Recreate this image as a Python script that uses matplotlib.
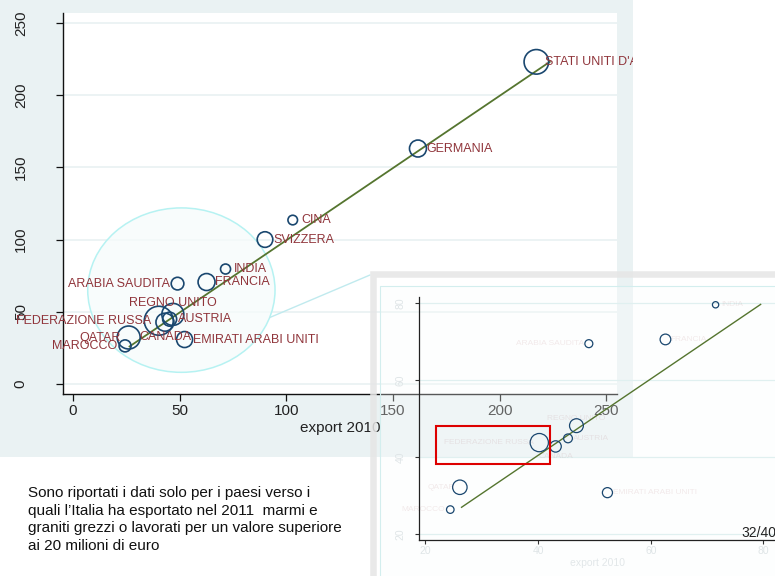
import matplotlib
matplotlib.use('Agg')
import numpy as np
import matplotlib.pyplot as plt
from matplotlib.patches import Rectangle, Ellipse, ConnectionPatch
from matplotlib.transforms import Bbox, TransformedBbox

plt.rcParams['font.family'] = ['Liberation Sans', 'DejaVu Sans']

# export di marmi e graniti per paese (milioni di euro)
paesi = ["STATI UNITI D'AMERICA", 'GERMANIA', 'CINA', 'SVIZZERA', 'INDIA', 'FRANCIA',
         'ARABIA SAUDITA', 'REGNO UNITO', 'AUSTRIA', 'CANADA', 'FEDERAZIONE RUSSA',
         'QATAR', 'MAROCCO', 'EMIRATI ARABI UNITI']
export_2010 = [217.2, 161.7, 103.0, 90.0, 71.5, 62.6, 49.0, 46.8, 45.3, 43.1, 40.2, 26.1, 24.4, 52.3]
export_2011 = [223.0, 163.0, 113.5, 100.0, 79.6, 70.6, 69.5, 48.2, 44.9, 42.8, 43.8, 32.2, 26.4, 30.8]
peso = [15.1, 7.2, 2.3, 6.1, 2.5, 7.2, 4.0, 12.1, 4.9, 8.1, 21.0, 13.2, 3.6, 6.4]

# retta stimata (grafico intero e zoom)
fit_x = [26.5, 223.5]
fit_y = [26.0, 223.0]
fit_x_zoom = [26.4, 79.5]
fit_y_zoom = [27.0, 79.7]

tick_main = [0, 50, 100, 150, 200, 250]
tick_zoom = [20, 40, 60, 80]

nota = ("Sono riportati i dati solo per i paesi verso i\n"
        "quali l\u2019Italia ha esportato nel 2011  marmi e\n"
        "graniti grezzi o lavorati per un valore superiore\n"
        "ai 20 milioni di euro")

# posizione etichette (ore dell'orologio, come in Stata)
pos_etichetta = {'ARABIA SAUDITA': 9, 'FEDERAZIONE RUSSA': 9, 'QATAR': 9, 'MAROCCO': 9,
                 'REGNO UNITO': 12, 'CANADA': 6}

W, H = 775, 576
def fx(px):
    return px / W
def fy(py):
    return 1 - py / H

BLU = '#1a476f'
ROSSO = '#90353b'
VERDE = '#55752f'
PANNELLO = '#eaf2f3'

fig = plt.figure(figsize=(W / 100, H / 100), dpi=100)

# sfondo del grafico (graph region)
pannello = Rectangle((0, fy(457)), fx(633), 457 / H, transform=fig.transFigure,
                     facecolor=PANNELLO, edgecolor='none', zorder=0.5)
fig.add_artist(pannello)
clip_pannello = TransformedBbox(Bbox([[0, fy(457)], [fx(633), 1]]), fig.transFigure)

ax = fig.add_axes([fx(63), fy(394), fx(617) - fx(63), (394 - 13) / H])
ax.set_zorder(1)
ax.set_xlim(-4.69, 255.0)
ax.set_ylim(-6.9, 256.8)
for s in ['top', 'right']:
    ax.spines[s].set_visible(False)
for s in ['left', 'bottom']:
    ax.spines[s].set_color('#111111')
    ax.spines[s].set_linewidth(1.0)
ax.set_xticks(tick_main)
ax.set_yticks(tick_main)
ax.tick_params(axis='both', length=4.8, width=0.9, color='#111111', labelsize=11, labelcolor='#222222')
ax.tick_params(axis='x', pad=2.7)
ax.tick_params(axis='y', pad=20.5)
plt.setp(ax.get_yticklabels(), rotation=90, va='center')
ax.grid(axis='y', color=PANNELLO, linewidth=1.3)
ax.set_axisbelow(True)
ax.set_xlabel('export 2010', fontsize=11, color='#222222', labelpad=2)

# cerchio della lente
ecx, ecy, ew, eh = 50.8, 65.0, 87.8, 113.8
lente = Ellipse((ecx, ecy), ew, eh, facecolor='#f6fcfc', alpha=0.75, edgecolor='none', zorder=1.5)
ax.add_patch(lente)
ax.add_patch(Ellipse((ecx, ecy), ew, eh, facecolor='none', edgecolor='#b6f2f2', linewidth=1.1, zorder=1.6))

ax.plot(fit_x, fit_y, color=VERDE, linewidth=1.3, zorder=3)
dim = np.array(peso) * 20.7
ax.scatter(export_2010, export_2011, s=dim, facecolors='none', edgecolors=BLU, linewidths=1.2, zorder=4)

def etichette(asse, scala, fs, colore, alpha, clip=None):
    off = {3: (6 * scala, 0, 'left'), 9: (-5.5 * scala, 0, 'right'),
           12: (0, 8 * scala, 'center'), 6: (0, -11 * scala, 'center')}
    for nome, x, y in zip(paesi, export_2010, export_2011):
        dx, dy, ha = off[pos_etichetta.get(nome, 3)]
        t = asse.annotate(nome, (x, y), xytext=(dx, dy), textcoords='offset points',
                          ha=ha, va='center', fontsize=fs, color=colore, alpha=alpha, zorder=5,
                          annotation_clip=False)
        if clip is not None:
            t.set_clip_box(clip)
        t.set_clip_on(True)

etichette(ax, 1.0, 9, ROSSO, 1.0, clip_pannello)

# riquadro dello zoom
banda = Rectangle((fx(373), fy(273.5) - 1), 1, 1, transform=fig.transFigure, facecolor='none',
                  edgecolor='#e6e6e6', linewidth=4.7, alpha=0.85, zorder=2)
fig.add_artist(banda)
interno = Rectangle((fx(380), fy(620)), 1, (620 - 286) / H, transform=fig.transFigure,
                    facecolor='#fbfdfd', alpha=0.3, edgecolor='none', zorder=2)
fig.add_artist(interno)
bordo = Rectangle((fx(380), fy(620)), 1, (620 - 286) / H, transform=fig.transFigure,
                  facecolor='none', edgecolor='#d3eeee', linewidth=0.8, zorder=2.1)
fig.add_artist(bordo)

# linea che collega la lente allo zoom
th = np.deg2rad(-19.5)
con = ConnectionPatch(xyA=(ecx + ew / 2 * np.cos(th), ecy + eh / 2 * np.sin(th)), coordsA=ax.transData,
                      xyB=(fx(370), fy(275)), coordsB=fig.transFigure,
                      color='#c0eaee', linewidth=1.0, zorder=1.7)
ax.add_artist(con)

axz = fig.add_axes([fx(419.3), fy(540), fx(775) - fx(419.3), (540 - 296.7) / H])
axz.set_zorder(3)
axz.set_facecolor((1, 1, 1, 0))
axz.set_xlim(18.9, 82.05)
axz.set_ylim(18.5, 81.7)
for s in ['top', 'right']:
    axz.spines[s].set_visible(False)
for s in ['left', 'bottom']:
    axz.spines[s].set_color('#222222')
    axz.spines[s].set_linewidth(0.9)
axz.set_xticks(tick_zoom)
axz.set_yticks(tick_zoom)
axz.tick_params(axis='both', length=3.1, width=0.8, color='#333333', labelsize=7.5, labelcolor='#dfe5e7')
axz.tick_params(axis='x', pad=1.5)
axz.tick_params(axis='y', pad=6.8)
plt.setp(axz.get_yticklabels(), rotation=90, va='center')
axz.grid(axis='y', color='#e0f0f0', linewidth=0.9)
axz.set_axisbelow(True)
axz.set_xlabel('export 2010', fontsize=7.5, color='#e2e7e9', labelpad=1)

axz.plot(fit_x_zoom, fit_y_zoom, color=VERDE, linewidth=1.0, zorder=3)
axz.scatter(export_2010, export_2011, s=dim * 0.63 ** 2, facecolors='none', edgecolors=BLU,
            linewidths=0.9, zorder=4)
etichette(axz, 0.65, 6, ROSSO, 0.1)

axz.add_patch(Rectangle((21.9, 38.2), 20.2, 9.9, facecolor='none', edgecolor='#dd0000',
                        linewidth=1.5, zorder=6, clip_on=False))

fig.text(fx(28), fy(486), nota, ha='left', va='top', fontsize=11, color='#111111',
         linespacing=1.34, zorder=5)
fig.text(fx(741.7), fy(536.7), '32/40', ha='left', va='baseline', fontsize=10,
         color='#222222', zorder=5)

fig.savefig('out.png', dpi=100)
